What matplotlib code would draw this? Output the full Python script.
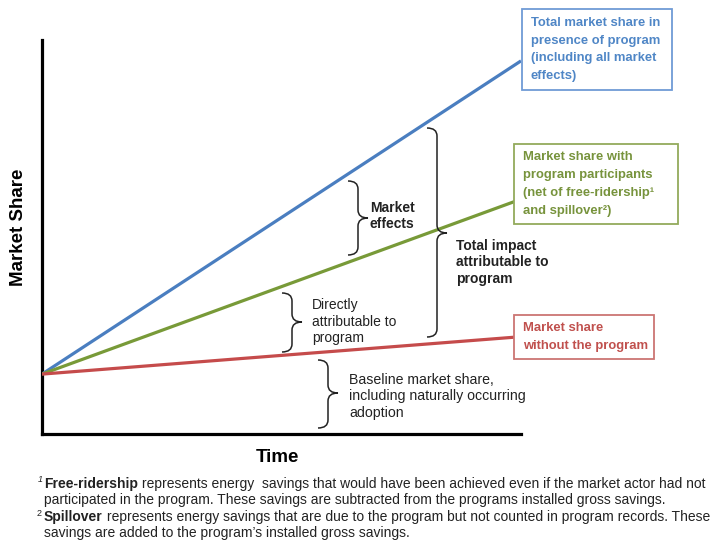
import matplotlib
matplotlib.use("Agg")
import matplotlib.pyplot as plt
from matplotlib import font_manager
from matplotlib.path import Path
from matplotlib.patches import PathPatch, Rectangle

# conceptual market share over time (arbitrary units)
time = [0, 10]
share_total = [1.52, 9.47]        # total market share in presence of program
share_participants = [1.52, 5.96]  # with program participants
share_baseline = [1.52, 2.47]      # without the program

blue = '#4A7EC0'
green = '#789A38'
red = '#C54B4B'

names = {f.name for f in font_manager.fontManager.ttflist}
base_font = 'Liberation Sans' if 'Liberation Sans' in names else 'DejaVu Sans'
if 'Liberation Sans Narrow' in names:
    box_font, box_size = 'Liberation Sans Narrow', 11.5
else:
    box_font, box_size = base_font, 9.4
plt.rcParams['font.family'] = [base_font, 'DejaVu Sans']

fig = plt.figure(figsize=(7.25, 5.5), dpi=100)
W, H = 725, 550

# main chart axes
ax = fig.add_axes([42 / W, (H - 434) / H, 479 / W, 394 / H])
ax.plot(time, share_total, color=blue, lw=2.3, solid_capstyle='butt', zorder=3)
ax.plot(time, share_participants, color=green, lw=2.3, solid_capstyle='butt', zorder=3)
ax.plot(time, share_baseline, color=red, lw=2.3, solid_capstyle='butt', zorder=3)
ax.set_xlim(0, 10)
ax.set_ylim(0, 10)
ax.set_xticks([])
ax.set_yticks([])
for s in ['top', 'right']:
    ax.spines[s].set_visible(False)
for s in ['left', 'bottom']:
    ax.spines[s].set_linewidth(2.3)
    ax.spines[s].set_color('black')
ax.set_xlabel('Time', fontsize=13.5, fontweight='bold', va='center')
ax.xaxis.set_label_coords((277 - 42) / 479, (434 - 458) / 394)
ax.set_ylabel('Market Share', fontsize=13.5, fontweight='bold', va='center')
ax.yaxis.set_label_coords((19 - 42) / 479, (434 - 227) / 394)

# overlay in pixel units for annotations
ov = fig.add_axes([0, 0, 1, 1])
ov.set_xlim(0, W)
ov.set_ylim(H, 0)
ov.axis('off')
ov.patch.set_alpha(0)


def brace(xs, top, bot, mid, w=10, r=8):
    verts = [(xs - w, top), (xs, top), (xs, top + r),
             (xs, mid - r),
             (xs, mid), (xs + w, mid),
             (xs, mid), (xs, mid + r),
             (xs, bot - r),
             (xs, bot), (xs - w, bot)]
    codes = [Path.MOVETO, Path.CURVE3, Path.CURVE3, Path.LINETO,
             Path.CURVE3, Path.CURVE3, Path.CURVE3, Path.CURVE3,
             Path.LINETO, Path.CURVE3, Path.CURVE3]
    ov.add_patch(PathPatch(Path(verts, codes), fc='none', ec='#222222', lw=1.1))


def lines(x, ys, txt, **kw):
    for y, t in zip(ys, txt):
        ov.text(x, y, t, va='center', ha='left', **kw)


brace(358, 181, 255, 218)
lines(370, [208, 224], ['Market', 'effects'], fontsize=10, fontweight='bold', color='#222222')

brace(437, 128, 337, 233)
lines(456, [246, 262, 279], ['Total impact', 'attributable to', 'program'],
      fontsize=10, fontweight='bold', color='#222222')

brace(292, 293, 352, 322)
lines(312, [305, 322, 338], ['Directly', 'attributable to', 'program'],
      fontsize=10, color='#222222')

brace(328, 360, 428, 393)
lines(349, [380, 396, 413], ['Baseline market share,', 'including naturally occurring', 'adoption'],
      fontsize=10.2, color='#222222')

# labelled boxes at line ends
boxes = [
    (522, 9, 150, 81, '#6F9BD6', '#4F86C6', 531, [23, 41, 58, 76],
     ['Total market share in', 'presence of program', '(including all market', 'effects)']),
    (514, 144, 164, 80, '#93AA5C', '#77933C', 523, [157, 175, 193, 211],
     ['Market share with', 'program participants', '(net of free-ridership\u00b9', 'and spillover\u00b2)']),
    (514, 315, 140, 44, '#CC7573', '#C0504D', 523, [328, 346],
     ['Market share', 'without the program']),
]
for bx, by, bw, bh, ec, tc, tx, tys, txt in boxes:
    ov.add_patch(Rectangle((bx, by), bw, bh, fc='white', ec=ec, lw=1.3, zorder=4))
    for y, t in zip(tys, txt):
        ov.text(tx, y, t, va='center', ha='left', color=tc, fontsize=box_size,
                fontweight='bold', family=[box_font, 'DejaVu Sans'], zorder=5)

# footnotes
fs = 10
fcol = '#222222'
ov.text(38, 480, '1', fontsize=6.5, style='italic', color=fcol, va='center')
t1 = ov.text(44, 484, 'Free-ridership', fontsize=fs, fontweight='bold', color=fcol, va='center')
ov.annotate(' represents energy  savings that would have been achieved even if the market actor had not',
            xy=(1, 0), xycoords=t1, va='bottom', ha='left', fontsize=fs, color=fcol)
ov.text(44, 500, 'participated in the program. These savings are subtracted from the programs installed gross savings.',
        fontsize=fs, color=fcol, va='center')
ov.text(37, 513, '2', fontsize=6.5, color=fcol, va='center')
t2 = ov.text(44, 517, 'Spillover', fontsize=fs, fontweight='bold', color=fcol, va='center')
ov.annotate(' represents energy savings that are due to the program but not counted in program records. These',
            xy=(1, 0), xycoords=t2, va='bottom', ha='left', fontsize=fs, color=fcol)
ov.text(44, 533, 'savings are added to the program\u2019s installed gross savings.',
        fontsize=fs, color=fcol, va='center')

fig.savefig('out.png', dpi=100)
